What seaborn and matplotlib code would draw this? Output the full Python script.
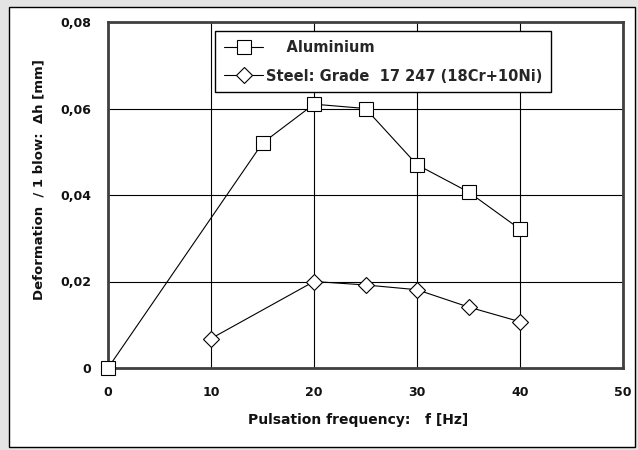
import matplotlib
matplotlib.use("Agg")
import matplotlib.pyplot as plt
import seaborn as sns
import pandas as pd
from matplotlib.patches import Rectangle
from matplotlib.ticker import FuncFormatter

# data
alu_freq = [0, 15, 20, 25, 30, 35, 40]
alu_def = [0.0, 0.052, 0.061, 0.060, 0.047, 0.0407, 0.0321]
steel_freq = [10, 20, 25, 30, 35, 40]
steel_def = [0.0068, 0.020, 0.0192, 0.0181, 0.0141, 0.0107]

x_ticks = [0, 10, 20, 30, 40, 50]
y_ticks = [0, 0.02, 0.04, 0.06, 0.08]

sns.set_style("white")
plt.rcParams['font.family'] = ['DejaVu Sans']

fig = plt.figure(figsize=(6.38, 4.5), dpi=100)
fig.patch.set_facecolor('#e4e4e4')
# white panel with thin black border
fig.patches.append(Rectangle((9 / 638, 3 / 450), 626 / 638, 440 / 450,
                             transform=fig.transFigure, facecolor='white',
                             edgecolor='black', linewidth=1, zorder=-10))

ax = fig.add_axes([108 / 638, 82 / 450, 515 / 638, 346 / 450])
ax.set_facecolor('white')

df_alu = pd.DataFrame({'f': alu_freq, 'dh': alu_def})
df_steel = pd.DataFrame({'f': steel_freq, 'dh': steel_def})

sns.lineplot(data=df_alu, x='f', y='dh', ax=ax, color='black', linewidth=0.8,
             marker='s', markersize=9.5, markerfacecolor='white',
             markeredgecolor='black', markeredgewidth=0.8,
             label='    Aluminium', zorder=3, clip_on=False)
sns.lineplot(data=df_steel, x='f', y='dh', ax=ax, color='black', linewidth=0.8,
             marker='D', markersize=8, markerfacecolor='white',
             markeredgecolor='black', markeredgewidth=0.8,
             label='Steel: Grade  17 247 (18Cr+10Ni)', zorder=3)

ax.set_xlim(0, 50)
ax.set_ylim(0, 0.08)
ax.set_xticks(x_ticks)
ax.set_yticks(y_ticks)
ax.yaxis.set_major_formatter(FuncFormatter(
    lambda v, p: '0' if v == 0 else f'{v:.2f}'.replace('.', ',')))
ax.grid(True, color='black', linewidth=0.8)
ax.set_axisbelow(True)
for s in ax.spines.values():
    s.set_color('#404040')
    s.set_linewidth(2)
ax.tick_params(axis='both', direction='in', length=4, width=0.8,
               labelsize=9, colors='#111111')
ax.tick_params(axis='x', pad=13)
ax.tick_params(axis='y', pad=12)
for lbl in ax.get_xticklabels() + ax.get_yticklabels():
    lbl.set_fontweight('bold')

ax.set_xlabel('Pulsation frequency:   f [Hz]', fontsize=10, fontweight='bold',
              labelpad=10, color='#111111')
ax.xaxis.set_label_coords(0.485, -0.13)
ax.set_ylabel('Deformation  / 1 blow:  \u0394h [mm]', fontsize=9.5,
              fontweight='bold', color='#111111')
ax.yaxis.set_label_coords(-0.122, 0.546)

leg = ax.legend(loc='upper left', bbox_to_anchor=(0.208, 0.974),
                frameon=True, fancybox=False,
                prop={'weight': 'bold', 'size': 10.5}, handlelength=2.7,
                borderpad=0.6, labelspacing=0.95, handletextpad=0.2,
                borderaxespad=0)
leg.get_frame().set_edgecolor('black')
leg.get_frame().set_linewidth(1)
leg.get_frame().set_alpha(1)

fig.savefig('out.png', dpi=100, facecolor=fig.get_facecolor())
